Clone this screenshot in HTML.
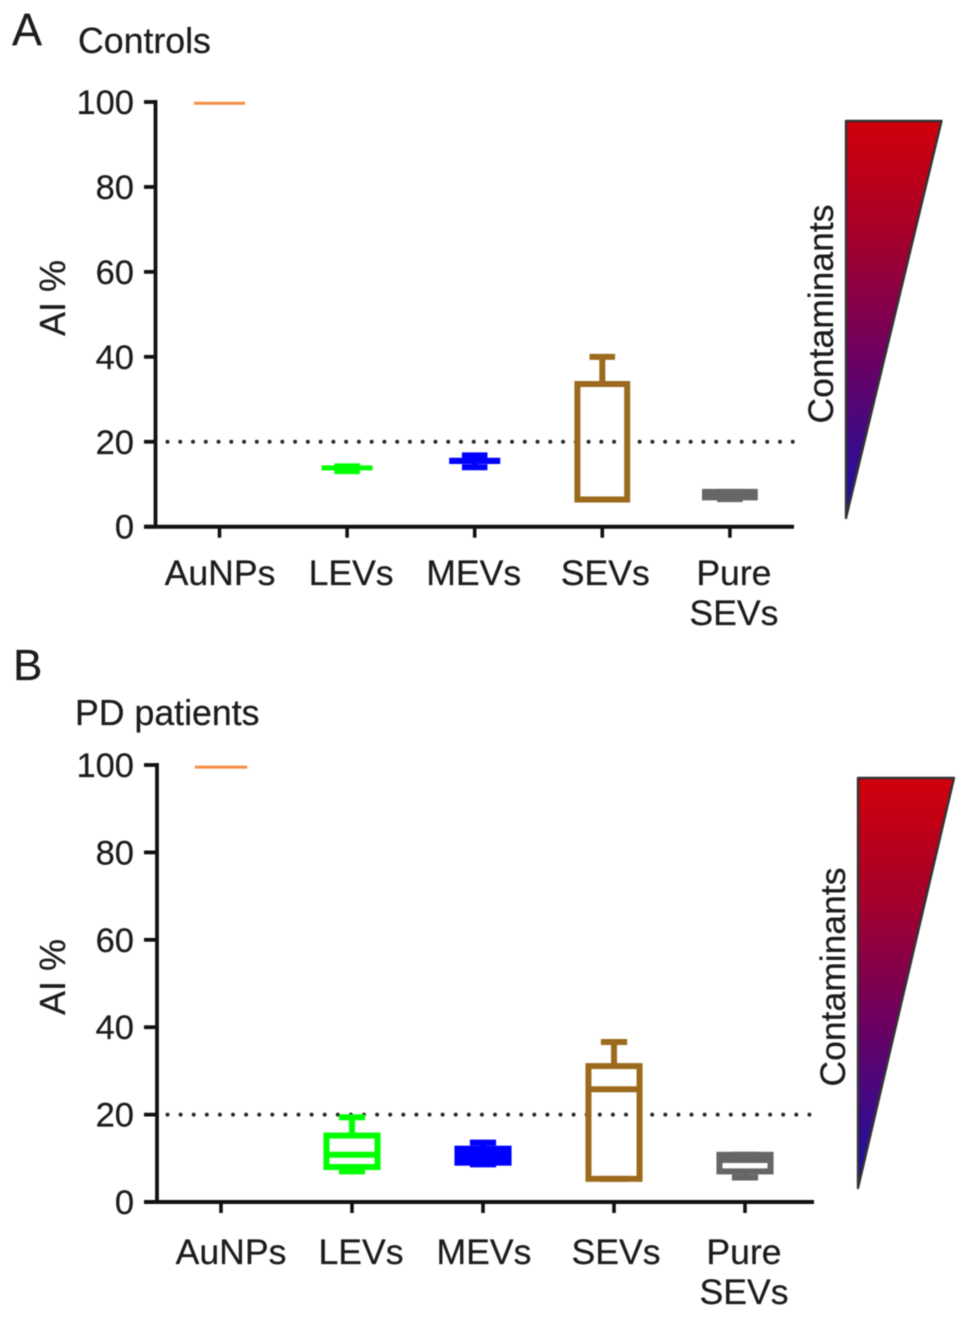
<!DOCTYPE html>
<html lang="en">
<head>
<meta charset="utf-8">
<title>AI % in Controls and PD patients</title>
<style>
html,body{margin:0;padding:0;background:#fff;}
svg{display:block;filter:blur(0.45px);}
text{font-family:"Liberation Sans",sans-serif;fill:#1c1c1c;stroke:#1c1c1c;stroke-width:0.25px;}
</style>
</head>
<body>
<svg id="chart" xmlns="http://www.w3.org/2000/svg" width="969" height="1317" viewBox="0 0 969 1317">
  <defs>
    <linearGradient id="contaminant-gradient" x1="0" y1="0" x2="0" y2="1">
      <stop offset="0" stop-color="#d0000a"/>
      <stop offset="0.3" stop-color="#a4002c"/>
      <stop offset="0.6" stop-color="#6c0062"/>
      <stop offset="1" stop-color="#1414a8"/>
    </linearGradient>
  </defs>
  <rect width="969" height="1317" fill="#fff"/>

  <text x="12" y="45" font-size="45">A</text>
  <text x="78" y="53" font-size="35.7">Controls</text>
  <text transform="translate(65,298) rotate(-90)" text-anchor="middle" font-size="36">AI %</text>
  <polygon points="846,121 941.5,121 846,518" fill="url(#contaminant-gradient)" stroke="#333" stroke-width="2.4" stroke-linejoin="round"/>
  <text transform="translate(833,314) rotate(-90)" text-anchor="middle" font-size="35.5">Contaminants</text>

  <text x="13" y="680" font-size="44">B</text>
  <text x="75" y="725" font-size="35.7">PD patients</text>
  <text transform="translate(65,977) rotate(-90)" text-anchor="middle" font-size="36">AI %</text>
  <polygon points="858,778 954,778 858,1188" fill="url(#contaminant-gradient)" stroke="#333" stroke-width="2.4" stroke-linejoin="round"/>
  <text transform="translate(845,977) rotate(-90)" text-anchor="middle" font-size="35.5">Contaminants</text>

  <g id="panel-a"></g>
  <g id="panel-b"></g>
</svg>
<script>
const categories = ['AuNPs', 'LEVs', 'MEVs', 'SEVs', 'Pure SEVs'];
const categorySlugs = ['aunps', 'levs', 'mevs', 'sevs', 'pure-sevs'];
const seriesColors = ['#f58f45', '#00ff00', '#0000ff', '#9c6a1c', '#666666'];
const yTickLabels = [0, 20, 40, 60, 80, 100];
const thresholdValue = 20;

const controlsMin    = [99.7, 13.1, 14.0, 6.4, 6.5];
const controlsQ1     = [99.7, 13.5, 15.0, 6.4, 6.9];
const controlsMedian = [99.7, 13.8, 15.6, 6.4, 7.5];
const controlsQ3     = [99.7, 14.2, 16.0, 33.6, 8.2];
const controlsMax    = [99.7, 14.2, 16.8, 40.0, 8.2];

const pdMin    = [99.5, 7.0, 8.6, 5.3, 5.6];
const pdQ1     = [99.5, 8.0, 9.0, 5.3, 7.0];
const pdMedian = [99.5, 10.8, 10.5, 25.8, 9.6];
const pdQ3     = [99.5, 15.2, 12.2, 31.1, 10.8];
const pdMax    = [99.5, 19.4, 13.6, 36.6, 10.8];

const SVG_NS = 'http://www.w3.org/2000/svg';

function make(parent, tag, attrs, name) {
  const el = document.createElementNS(SVG_NS, tag);
  for (const k in attrs) el.setAttribute(k, attrs[k]);
  
  
  parent.appendChild(el);
  return el;
}

function drawPanel(root, layout, stats) {
  const yScale = v => layout.y0 - v * (layout.y0 - layout.y100) / 100;
  const xScale = i => layout.x0 + i * layout.band;
  const axisColor = '#111';

  // threshold dotted line
  make(root, 'line', {
    x1: layout.dotStart, x2: layout.xEnd, y1: yScale(thresholdValue), y2: yScale(thresholdValue),
    stroke: '#2a2a2a', 'stroke-width': 4, 'stroke-linecap': 'round', 'stroke-dasharray': '0 ' + (layout.band / 10)
  }, 'threshold-line');

  // axes
  make(root, 'line', { x1: layout.xAxis, x2: layout.xAxis, y1: yScale(100) - 2, y2: yScale(0), stroke: axisColor, 'stroke-width': 3.8 }, 'y-axis-line');
  make(root, 'line', { x1: layout.tickLeft, x2: layout.xEnd, y1: yScale(0), y2: yScale(0), stroke: axisColor, 'stroke-width': 4 }, 'x-axis-line');

  yTickLabels.forEach(t => {
    make(root, 'line', { x1: layout.tickLeft, x2: layout.xAxis, y1: yScale(t), y2: yScale(t), stroke: axisColor, 'stroke-width': 3.8 }, 'y-tick-' + t);
    const label = make(root, 'text', { x: 134, y: yScale(t) + 12, 'text-anchor': 'end', 'font-size': 34.5 }, 'y-tick-label-' + t);
    label.textContent = t;
  });

  categories.forEach((cat, i) => {
    const x = xScale(i);
    const slug = categorySlugs[i];
    make(root, 'line', { x1: x, x2: x, y1: yScale(0), y2: yScale(0) + 11, stroke: axisColor, 'stroke-width': 3.6 }, 'x-tick-' + slug);

    const words = cat.split(' ');
    words.forEach((w, j) => {
      const label = make(root, 'text', {
        x: x + layout.labelShift[i], y: layout.labelBaseline + j * 40, 'text-anchor': 'middle', 'font-size': 35.6
      }, 'x-tick-label-' + slug + (words.length > 1 ? '-line-' + (j + 1) : ''));
      label.textContent = w;
    });

    const color = seriesColors[i];
    const flat = stats.max[i] === stats.min[i];
    const sw = flat ? 3 : 6;
    const boxW = layout.band * 0.39;
    const capW = layout.band * 0.2;
    const g = make(root, 'g', { stroke: color, fill: 'none', 'stroke-width': sw }, 'box-plot-' + slug);

    if (flat) {
      make(g, 'line', { x1: x - layout.band * 0.2, x2: x + layout.band * 0.2, y1: yScale(stats.median[i]), y2: yScale(stats.median[i]) }, 'median-' + slug);
      return;
    }
    const boxTop = yScale(stats.q3[i]);
    const boxBottom = yScale(stats.q1[i]);
    const boxPx = boxBottom - boxTop;

    make(g, 'line', { x1: x, x2: x, y1: yScale(stats.max[i]), y2: boxTop }, 'upper-whisker-' + slug);
    make(g, 'line', { x1: x, x2: x, y1: boxBottom, y2: yScale(stats.min[i]) }, 'lower-whisker-' + slug);
    make(g, 'line', { x1: x - capW / 2, x2: x + capW / 2, y1: yScale(stats.max[i]), y2: yScale(stats.max[i]) }, 'upper-cap-' + slug);
    make(g, 'line', { x1: x - capW / 2, x2: x + capW / 2, y1: yScale(stats.min[i]), y2: yScale(stats.min[i]) }, 'lower-cap-' + slug);

    if (boxPx < 5) {
      // very short boxes read as a single flat bar
      make(g, 'rect', {
        x: x - layout.band * 0.2, y: boxTop - 1, width: layout.band * 0.4, height: boxPx + 2,
        fill: color, stroke: 'none'
      }, 'box-' + slug);
    } else {
      make(g, 'rect', {
        x: x - boxW / 2, y: boxTop, width: boxW, height: boxPx,
        fill: boxPx < 15 ? color : 'none'
      }, 'box-' + slug);
      make(g, 'line', { x1: x - boxW / 2, x2: x + boxW / 2, y1: yScale(stats.median[i]), y2: yScale(stats.median[i]) }, 'median-' + slug);
    }
  });
}

drawPanel(document.getElementById('panel-a'),
  { y0: 526.7, y100: 102, x0: 219.5, band: 127.6, xAxis: 155.5, tickLeft: 144, xEnd: 794, dotStart: 167.5, labelBaseline: 585, labelShift: [0.5, 4, -1, 3, 4] },
  { min: controlsMin, q1: controlsQ1, median: controlsMedian, q3: controlsQ3, max: controlsMax });

drawPanel(document.getElementById('panel-b'),
  { y0: 1202, y100: 765, x0: 221, band: 131, xAxis: 157, tickLeft: 144, xEnd: 814, dotStart: 167.5, labelBaseline: 1264, labelShift: [10, 9, 1, 2, -1] },
  { min: pdMin, q1: pdQ1, median: pdMedian, q3: pdQ3, max: pdMax });
</script>
</body>
</html>
